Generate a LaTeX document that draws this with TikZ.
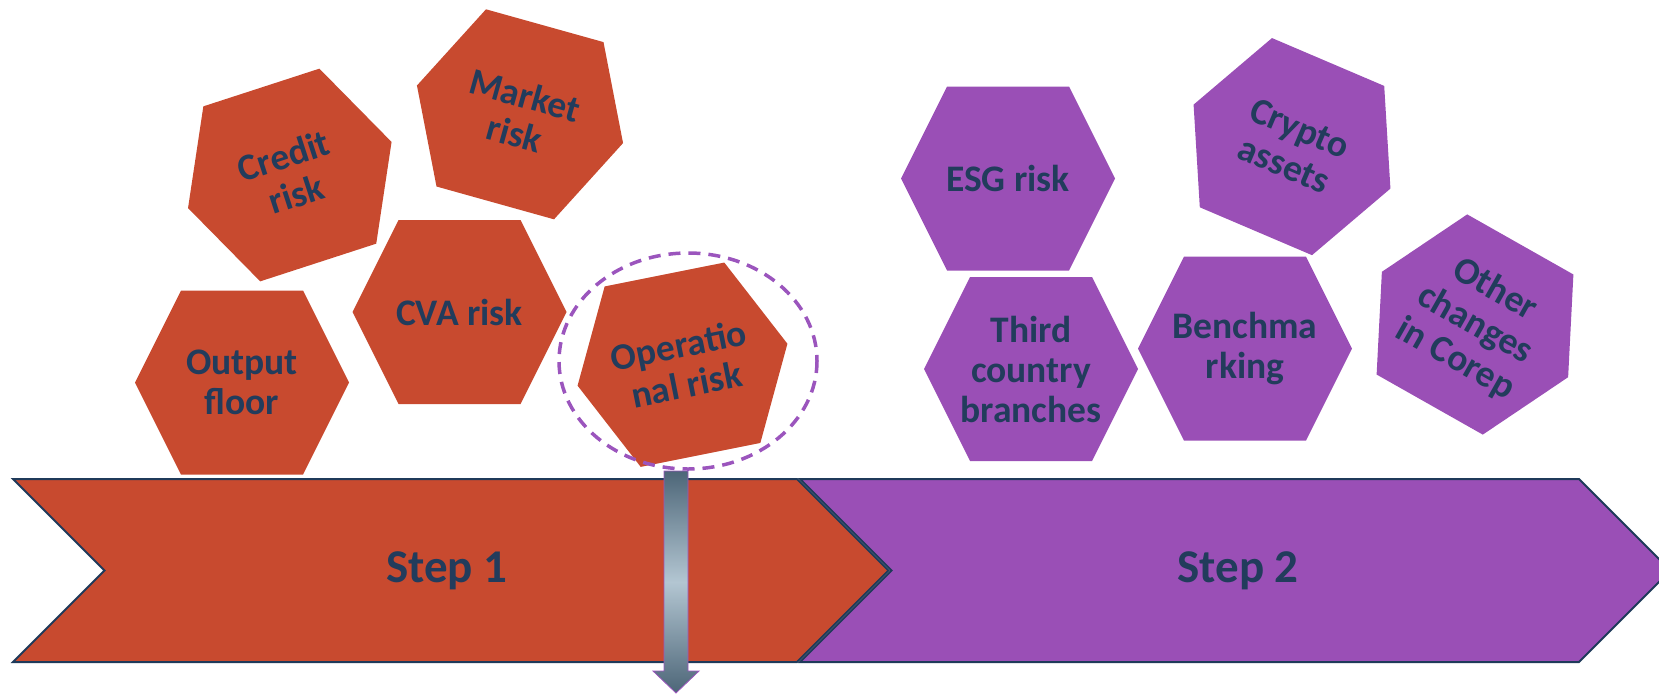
\documentclass[tikz,border=0pt]{standalone}
\usepackage{fontspec}
\setmainfont{Carlito}
\definecolor{orng}{HTML}{C84A2F}
\definecolor{purp}{HTML}{9A4FB6}
\definecolor{navy}{HTML}{223C5C}
\definecolor{edgec}{HTML}{1F3A5A}
\definecolor{slate}{HTML}{4D6678}
\definecolor{pale}{HTML}{B3C6D2}
\definecolor{dashc}{HTML}{9B55BD}
\tikzset{
  hexo/.style={fill=orng},
  hexp/.style={fill=purp},
  lbl/.style={font=\bfseries\fontsize{37.5}{40}\selectfont, text=navy, align=center, inner sep=0pt},
  steplbl/.style={font=\bfseries\fontsize{47}{50}\selectfont, text=navy, inner sep=0pt},
  stepbox/.style={draw=edgec, line width=2pt, line join=miter},
  focusring/.style={draw=dashc, line width=3.5pt, dash pattern=on 12pt off 8pt},
}
\newcommand\hexpath[4]{\fill[#4, shift={(#1,#2)}, rotate=#3] (-61,-92) -- (61,-92) -- (107,0) -- (61,92) -- (-61,92) -- (-107,0) -- cycle;}
\begin{document}
\begin{tikzpicture}[x=1pt,y=-1pt]
\useasboundingbox (0,0) rectangle (1659,694);
% steps
\path[stepbox, fill=purp] (800,479) -- (1579,479) -- (1670.5,570.5) -- (1579,662) -- (800,662) -- (891.5,570.5) -- cycle;
\path[stepbox, fill=orng] (13,479) -- (797,479) -- (888.5,570.5) -- (797,662) -- (13,662) -- (104.5,570.5) -- cycle;
\node[steplbl] (s1) at (447,571) {Step 1};
\node[steplbl] (s2) at (1238,571) {Step 2};
% orange hexagons
\hexpath{242}{382.5}{0}{hexo}
\node[lbl] (out) at (242,382.5) {Output\\floor};
\hexpath{459.5}{312}{0}{hexo}
\node[lbl] (cva) at (459.5,312) {CVA risk};
\hexpath{289.8}{175}{18}{hexo}
\node[lbl, rotate=18] (cred) at (289.8,175) {Credit\\risk};
\hexpath{520}{114.3}{-15.6}{hexo}
\node[lbl, rotate=-15.6] (mkt) at (520,114.3) {Market\\risk};
\hexpath{682.5}{364.7}{11.3}{hexo}
\node[lbl, rotate=11.3] (op) at (682.5,364.7) {Operatio\\nal risk};
% purple hexagons
\hexpath{1008}{178.5}{0}{hexp}
\node[lbl] (esg) at (1008,178.5) {ESG risk};
\hexpath{1031}{369}{0}{hexp}
\node[lbl] (tcb) at (1031,369) {Third\\country\\branches};
\hexpath{1245}{348.7}{0}{hexp}
\node[lbl] (bm) at (1245,348.7) {Benchma\\rking};
\hexpath{1292}{146.6}{-23.1}{hexp}
\node[lbl, rotate=-23.1] (cry) at (1292,146.6) {Crypto\\assets};
\hexpath{1475}{324.5}{-29.5}{hexp}
\node[lbl, rotate=-29.5] (oth) at (1475,324.5) {Other\\changes\\in Corep};
% dashed ring
\draw[focusring] (688,361) ellipse [x radius=129, y radius=108];
% down arrow
\path[draw=dashc, line width=0.8pt, top color=slate, bottom color=slate, middle color=pale]
  (664,471) -- (688,471) -- (688,671) -- (699,671) -- (676,693) -- (653,671) -- (664,671) -- cycle;
\end{tikzpicture}
\end{document}
